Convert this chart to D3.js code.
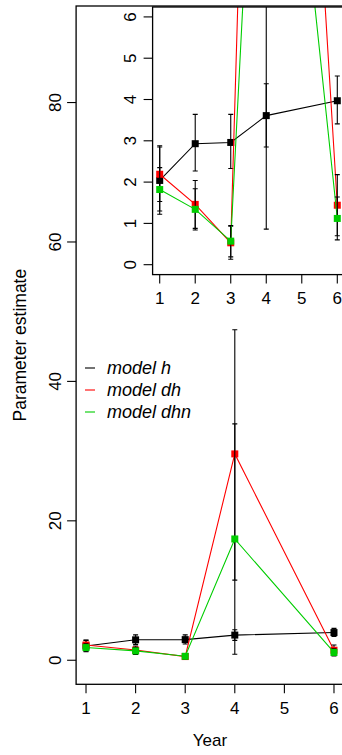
<!DOCTYPE html>
<html lang="en">
<head>
  <meta charset="UTF-8">
  <title>Parameter estimate by year</title>
  <script src="https://d3js.org/d3.v7.min.js"></script>
  <style>
    body, html { margin: 0; padding: 0; background: #fff; overflow: hidden; }
    text { font-family: "Liberation Sans", Arial, sans-serif; fill: #000; }
  </style>
</head>
<body>
<script>
  // data
  const years = [1, 2, 3, 4, 6];
  const hEst = [2.04, 2.93, 2.96, 3.61, 3.97];
  const hLo = [1.22, 2.27, 2.33, 2.85, 3.41];
  const hHi = [2.88, 3.64, 3.64, 4.38, 4.57];
  const dhEst = [2.19, 1.46, 0.53, 29.6, 1.44];
  const dhLo = [1.53, 0.88, 0.13, 11.5, 0.70];
  const dhHi = [2.85, 2.04, 0.93, 47.4, 2.18];
  const dhnEst = [1.82, 1.34, 0.57, 17.4, 1.12];
  const dhnLo = [1.30, 0.84, 0.19, 0.86, 0.60];
  const dhnHi = [2.35, 1.84, 0.95, 33.9, 1.64];

  const xTicks = [1, 2, 3, 4, 5, 6];
  const mainYTicks = [0, 20, 40, 60, 80];
  const insetYTicks = [0, 1, 2, 3, 4, 5, 6];
  const seriesNames = ["model h", "model dh", "model dhn"];
  const seriesColors = ["#000000", "#ff0000", "#00cd00"];

  const series = [
    { est: hEst, lo: hLo, hi: hHi },
    { est: dhEst, lo: dhLo, hi: dhHi },
    { est: dhnEst, lo: dhnLo, hi: dhnHi }
  ].map((s, i) => ({
    name: seriesNames[i],
    color: seriesColors[i],
    pts: years.map((yr, j) => ({ x: yr, y: s.est[j], lo: s.lo[j], hi: s.hi[j] }))
  }));

  const W = 342, H = 755;
  const svg = d3.select("body").append("svg")
    .attr("width", W)
    .attr("height", H);

  // main panel
  const main = { left: 76.1, right: 343.9, top: 6, bottom: 684.3 };
  const x = d3.scaleLinear().domain([0.8, 6.2]).range([main.left, main.right]);
  const y = d3.scaleLinear().domain([-3.45, 93.85]).range([main.bottom, main.top]);

  // inset panel
  const ins = { left: 152.6, right: 344.4, top: 7, bottom: 274.6 };
  const xi = d3.scaleLinear().domain([0.8, 6.2]).range([ins.left, ins.right]);
  const yi = d3.scaleLinear().domain([-0.24, 6.24]).range([ins.bottom, ins.top]);

  svg.append("defs").append("clipPath").attr("id", "mainClip")
    .append("rect").attr("x", main.left).attr("y", main.top)
    .attr("width", main.right - main.left).attr("height", main.bottom - main.top);
  svg.select("defs").append("clipPath").attr("id", "insClip")
    .append("rect").attr("x", ins.left).attr("y", ins.top)
    .attr("width", ins.right - ins.left).attr("height", ins.bottom - ins.top);

  function drawSeries(g, sx, sy, capW, sq) {
    const line = d3.line().x(d => sx(d.x)).y(d => sy(d.y));
    series.forEach(s => {
      g.append("path")
        .datum(s.pts)
        .attr("d", line)
        .attr("fill", "none")
        .attr("stroke", s.color)
        .attr("stroke-width", 1.1);

      const eb = g.append("g").attr("stroke", "#000").attr("stroke-width", 1.1);
      s.pts.forEach(d => {
        eb.append("line").attr("x1", sx(d.x)).attr("x2", sx(d.x))
          .attr("y1", sy(d.lo)).attr("y2", sy(d.hi));
        [d.lo, d.hi].forEach(v => {
          eb.append("line").attr("x1", sx(d.x) - capW).attr("x2", sx(d.x) + capW)
            .attr("y1", sy(v)).attr("y2", sy(v));
        });
      });

      g.selectAll(null)
        .data(s.pts)
        .join("rect")
        .attr("x", d => sx(d.x) - sq / 2)
        .attr("y", d => sy(d.y) - sq / 2)
        .attr("width", sq)
        .attr("height", sq)
        .attr("fill", s.color);
    });
  }

  // main data
  drawSeries(svg.append("g").attr("clip-path", "url(#mainClip)"), x, y, 2.5, 7);

  // main axes
  svg.append("rect")
    .attr("x", main.left).attr("y", main.top)
    .attr("width", main.right - main.left).attr("height", main.bottom - main.top)
    .attr("fill", "none").attr("stroke", "#000").attr("stroke-width", 1.3);

  const mainYAxis = svg.append("g");
  mainYTicks.forEach(t => {
    mainYAxis.append("line").attr("x1", main.left - 9).attr("x2", main.left)
      .attr("y1", y(t)).attr("y2", y(t)).attr("stroke", "#000").attr("stroke-width", 1.1);
    mainYAxis.append("text")
      .attr("transform", `translate(61,${y(t)}) rotate(-90)`)
      .attr("text-anchor", "middle")
      .attr("font-size", 17)
      .text(t);
  });

  const mainXAxis = svg.append("g");
  xTicks.forEach(t => {
    mainXAxis.append("line").attr("x1", x(t)).attr("x2", x(t))
      .attr("y1", main.bottom).attr("y2", main.bottom + 9)
      .attr("stroke", "#000").attr("stroke-width", 1.1);
    mainXAxis.append("text")
      .attr("x", x(t)).attr("y", 714)
      .attr("text-anchor", "middle")
      .attr("font-size", 17)
      .text(t);
  });

  svg.append("text")
    .attr("x", 210).attr("y", 746)
    .attr("text-anchor", "middle")
    .attr("font-size", 17)
    .text("Year");

  svg.append("text")
    .attr("transform", `translate(26,${(main.top + main.bottom) / 2}) rotate(-90)`)
    .attr("text-anchor", "middle")
    .attr("font-size", 17.5)
    .text("Parameter estimate");

  // legend
  const legend = svg.append("g");
  series.forEach((s, i) => {
    const ly = 368 + i * 22;
    legend.append("line").attr("x1", 85).attr("x2", 95)
      .attr("y1", ly).attr("y2", ly)
      .attr("stroke", s.color).attr("stroke-width", 1.1);
    legend.append("text")
      .attr("x", 107).attr("y", ly + 6)
      .attr("font-size", 18)
      .attr("font-style", "italic")
      .text(s.name);
  });

  // inset
  svg.append("rect")
    .attr("x", ins.left).attr("y", ins.top)
    .attr("width", ins.right - ins.left).attr("height", ins.bottom - ins.top)
    .attr("fill", "#fff");

  drawSeries(svg.append("g").attr("clip-path", "url(#insClip)"), xi, yi, 2.5, 7);

  svg.append("rect")
    .attr("x", ins.left).attr("y", ins.top)
    .attr("width", ins.right - ins.left).attr("height", ins.bottom - ins.top)
    .attr("fill", "none").attr("stroke", "#000").attr("stroke-width", 1.3);

  const insYAxis = svg.append("g");
  insetYTicks.forEach(t => {
    insYAxis.append("line").attr("x1", ins.left - 9).attr("x2", ins.left)
      .attr("y1", yi(t)).attr("y2", yi(t)).attr("stroke", "#000").attr("stroke-width", 1.1);
    insYAxis.append("text")
      .attr("transform", `translate(136,${yi(t)}) rotate(-90)`)
      .attr("text-anchor", "middle")
      .attr("font-size", 17)
      .text(t);
  });

  const insXAxis = svg.append("g");
  xTicks.forEach(t => {
    insXAxis.append("line").attr("x1", xi(t)).attr("x2", xi(t))
      .attr("y1", ins.bottom).attr("y2", ins.bottom + 9)
      .attr("stroke", "#000").attr("stroke-width", 1.1);
    insXAxis.append("text")
      .attr("x", xi(t)).attr("y", 304)
      .attr("text-anchor", "middle")
      .attr("font-size", 17)
      .text(t);
  });
</script>
</body>
</html>
